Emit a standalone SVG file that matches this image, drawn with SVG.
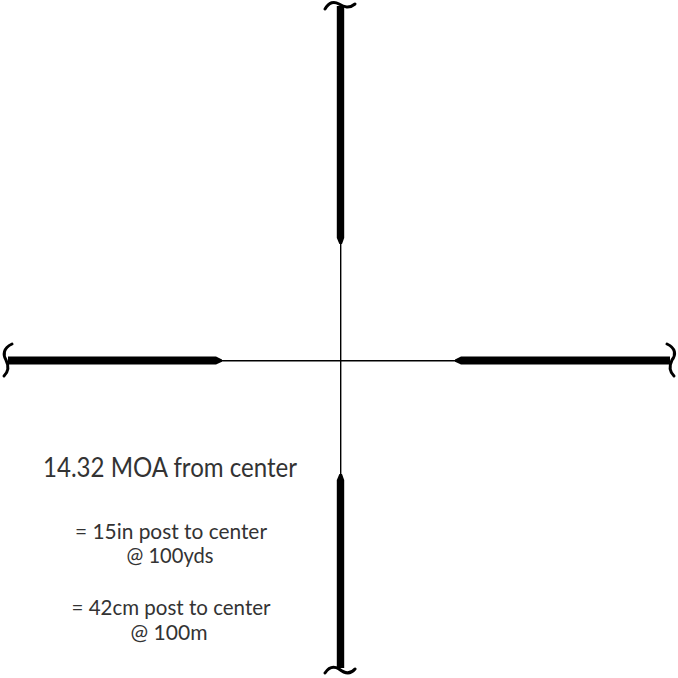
<svg xmlns="http://www.w3.org/2000/svg" width="678" height="678" viewBox="0 0 678 678">
<style>
.thin{stroke:#000;stroke-width:1.4;fill:none}
.post{fill:#000}
.curl{stroke:#000;stroke-width:3;fill:none;stroke-linecap:round}
.t{font-family:Lato,"Open Sans","Liberation Sans",sans-serif;font-weight:400;fill:#333;text-anchor:middle}
</style>
<rect width="678" height="678" fill="#fff"/>
<g id="crosshair">
<line class="thin" x1="340.7" y1="5" x2="340.7" y2="668"/>
<line class="thin" x1="8" y1="360.7" x2="670" y2="360.7"/>
</g>
<g id="post-top">
<path class="post" d="M336.8 6 L344.2 6 L344.2 238 L342 244 L339.4 244 L336.8 238 Z"/>
<path class="curl" d="M325 9 C329 2,334 1,339 4 C344 7,349 9,355 4"/>
</g>
<g id="post-bottom">
<path class="post" d="M336.8 668 L344.2 668 L344.2 480 L342 474 L339.4 474 L336.8 480 Z"/>
<path class="curl" d="M325 673 C329 667,334 666,339 669 C344 673,350 675,355 669"/>
</g>
<g id="post-left">
<path class="post" d="M8 356.6 L8 364.6 L216 364.6 L222 361.8 L222 359.6 L216 356.6 Z"/>
<path class="curl" d="M12 344 C3 348,3 355,6 360 C9 366,9 371,4 376"/>
</g>
<g id="post-right">
<path class="post" d="M670 356.6 L670 364.6 L461 364.6 L455 361.8 L455 359.6 L461 356.6 Z"/>
<path class="curl" d="M667 344 C676 348,676 355,672 360 C669 366,669 371,674 376"/>
</g>
<g id="labels">
<text class="t" x="170" y="477" font-size="26" textLength="254" lengthAdjust="spacingAndGlyphs">14.32 MOA from center</text>
<text class="t" x="171" y="539" font-size="21" textLength="192" lengthAdjust="spacingAndGlyphs">= 15in post to center</text>
<text class="t" x="170" y="563" font-size="21" textLength="87" lengthAdjust="spacingAndGlyphs">@ 100yds</text>
<text class="t" x="171" y="615" font-size="21" textLength="199" lengthAdjust="spacingAndGlyphs">= 42cm post to center</text>
<text class="t" x="169" y="640" font-size="21" textLength="77" lengthAdjust="spacingAndGlyphs">@ 100m</text>
</g>
</svg>
